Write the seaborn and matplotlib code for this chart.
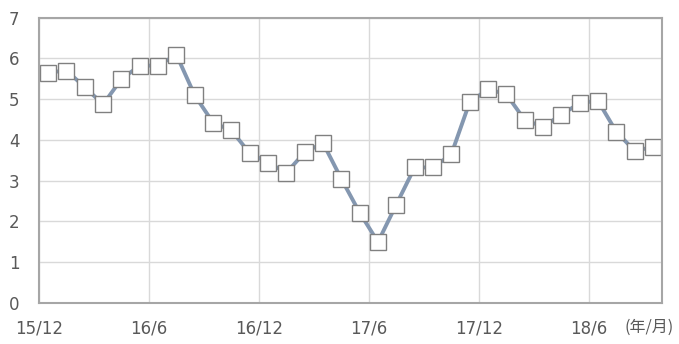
import pandas as pd
import numpy as np
import matplotlib
matplotlib.use("Agg")
import matplotlib.pyplot as plt
import seaborn as sns

# dados (mensal, 2015/12 a 2018/9)
meses = pd.period_range("2015-12", "2018-09", freq="M").strftime("%y/%m").tolist()
valores = [5.65, 5.70, 5.29, 4.87, 5.49, 5.82, 5.82, 6.09, 5.09, 4.42, 4.23,
           3.67, 3.44, 3.19, 3.69, 3.92, 3.04, 2.21, 1.49, 2.41, 3.32, 3.32,
           3.64, 4.92, 5.24, 5.12, 4.49, 4.32, 4.61, 4.90, 4.96, 4.20, 3.73,
           3.82]
rotulos_x = ["15/12", "16/6", "16/12", "17/6", "17/12", "18/6"]
rotulos_y = [0, 1, 2, 3, 4, 5, 6, 7]

# posicao no eixo: meses desde 15/12, ponto no meio do mes
df = pd.DataFrame({"mes": meses, "valor": valores})
df["pos"] = np.arange(len(df)) + 0.5

sns.set_style("white")
plt.rcParams["font.family"] = ["DejaVu Sans", "Noto Sans CJK JP"]

fig = plt.figure(figsize=(6.79, 3.44), dpi=100)
ax = fig.add_axes([0.0574, 0.12, 0.9176, 0.829])

sns.lineplot(data=df, x="pos", y="valor", ax=ax, color="#8497B0", linewidth=2.8,
             marker="s", markersize=11, markerfacecolor="white",
             markeredgecolor="#808080", markeredgewidth=1.0)

ax.set_xlim(0, 34)
ax.set_ylim(0, 7)
ax.set_xticks(np.arange(0, 31, 6))
ax.set_xticklabels(rotulos_x)
ax.set_yticks(rotulos_y)
ax.grid(True, color="#D9D9D9", linewidth=1.0)
ax.set_axisbelow(True)
ax.set_xlabel("")
ax.set_ylabel("")

for lado in ["left", "bottom", "top", "right"]:
    ax.spines[lado].set_color("#A6A6A6")
    ax.spines[lado].set_linewidth(1.5)

ax.tick_params(axis="x", colors="#595959", labelsize=12, length=4,
               color="#D9D9D9", pad=8)
ax.tick_params(axis="y", colors="#595959", labelsize=12, length=0, pad=14)

fig.text(0.919, 0.035, "(年/月)", fontsize=11.5, color="#595959",
         family=["Noto Sans CJK JP", "DejaVu Sans"])

plt.savefig("out.png", dpi=100)
